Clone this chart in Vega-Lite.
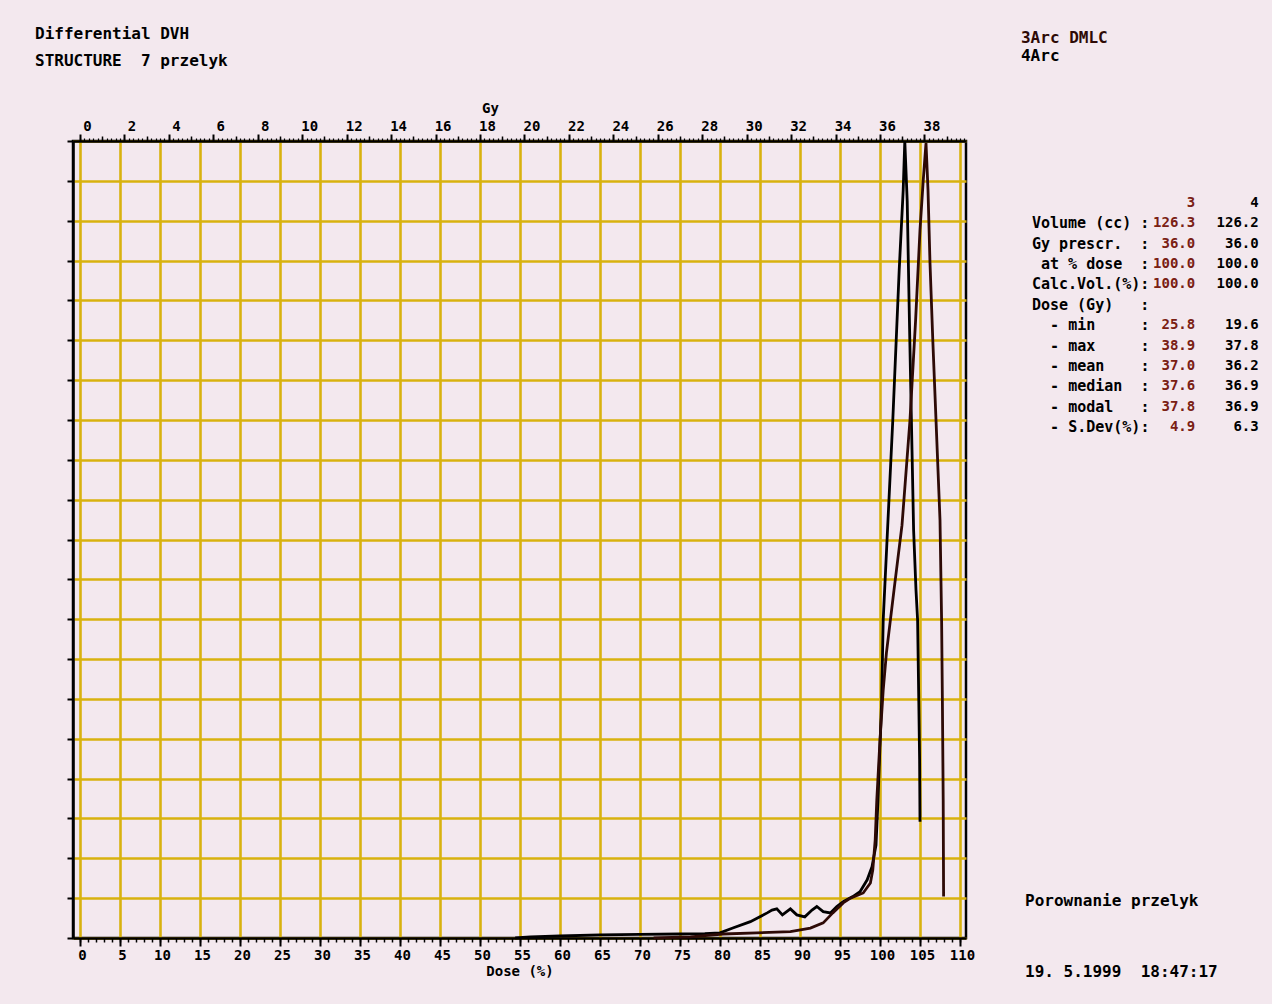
{
  "$schema": "https://vega.github.io/schema/vega-lite/v6.json",
  "width": 893,
  "height": 797,
  "autosize": {"type": "none"},
  "padding": {"left": 73, "top": 141, "right": 306, "bottom": 66},
  "background": "#f3e8ee",
  "config": {
    "view": {"stroke": "#000000", "strokeWidth": 2.5, "fill": "#f3e8ee"},
    "font": "DejaVu Sans Mono",
    "axis": {
      "labelFont": "DejaVu Sans Mono",
      "labelFontWeight": "bold",
      "labelColor": "#000000",
      "titleFont": "DejaVu Sans Mono",
      "titleFontWeight": "bold",
      "titleColor": "#000000",
      "tickColor": "#000000",
      "domainColor": "#000000",
      "labelFlush": false,
      "labelOverlap": false
    }
  },
  "datasets": {
    "dvh": [
      {"plan": "4Arc", "dose": 54.4, "volume": 0},
      {"plan": "4Arc", "dose": 56.3, "volume": 0.03},
      {"plan": "4Arc", "dose": 60, "volume": 0.05},
      {"plan": "4Arc", "dose": 65, "volume": 0.08},
      {"plan": "4Arc", "dose": 70, "volume": 0.09},
      {"plan": "4Arc", "dose": 75, "volume": 0.1},
      {"plan": "4Arc", "dose": 78.1, "volume": 0.11},
      {"plan": "4Arc", "dose": 80, "volume": 0.13},
      {"plan": "4Arc", "dose": 81.6, "volume": 0.25},
      {"plan": "4Arc", "dose": 83.8, "volume": 0.41},
      {"plan": "4Arc", "dose": 85.9, "volume": 0.63},
      {"plan": "4Arc", "dose": 86.5, "volume": 0.7},
      {"plan": "4Arc", "dose": 87.1, "volume": 0.73},
      {"plan": "4Arc", "dose": 87.8, "volume": 0.58},
      {"plan": "4Arc", "dose": 88.8, "volume": 0.73},
      {"plan": "4Arc", "dose": 89.6, "volume": 0.58},
      {"plan": "4Arc", "dose": 90.6, "volume": 0.53},
      {"plan": "4Arc", "dose": 91.5, "volume": 0.7},
      {"plan": "4Arc", "dose": 92.1, "volume": 0.79},
      {"plan": "4Arc", "dose": 92.9, "volume": 0.66},
      {"plan": "4Arc", "dose": 93.8, "volume": 0.63},
      {"plan": "4Arc", "dose": 94.6, "volume": 0.79},
      {"plan": "4Arc", "dose": 95.4, "volume": 0.91},
      {"plan": "4Arc", "dose": 96.6, "volume": 1.04},
      {"plan": "4Arc", "dose": 97.5, "volume": 1.16},
      {"plan": "4Arc", "dose": 98.4, "volume": 1.46},
      {"plan": "4Arc", "dose": 99.0, "volume": 1.79},
      {"plan": "4Arc", "dose": 99.5, "volume": 2.33},
      {"plan": "4Arc", "dose": 99.75, "volume": 3.46},
      {"plan": "4Arc", "dose": 100.2, "volume": 5.93},
      {"plan": "4Arc", "dose": 100.4, "volume": 7.98},
      {"plan": "4Arc", "dose": 101.0, "volume": 10.49},
      {"plan": "4Arc", "dose": 101.6, "volume": 13.0},
      {"plan": "4Arc", "dose": 102.4, "volume": 16.76},
      {"plan": "4Arc", "dose": 102.9, "volume": 18.77},
      {"plan": "4Arc", "dose": 103.1, "volume": 20.0},
      {"plan": "4Arc", "dose": 103.4, "volume": 18.5},
      {"plan": "4Arc", "dose": 103.7, "volume": 15.26},
      {"plan": "4Arc", "dose": 104.0, "volume": 12.25},
      {"plan": "4Arc", "dose": 104.2, "volume": 10.24},
      {"plan": "4Arc", "dose": 104.5, "volume": 8.73},
      {"plan": "4Arc", "dose": 104.7, "volume": 7.98},
      {"plan": "4Arc", "dose": 104.85, "volume": 5.93},
      {"plan": "4Arc", "dose": 104.95, "volume": 4.47},
      {"plan": "4Arc", "dose": 105.0, "volume": 2.92},
      {"plan": "3Arc DMLC", "dose": 71.7, "volume": 0},
      {"plan": "3Arc DMLC", "dose": 76.3, "volume": 0.03},
      {"plan": "3Arc DMLC", "dose": 80.4, "volume": 0.1},
      {"plan": "3Arc DMLC", "dose": 84.6, "volume": 0.13},
      {"plan": "3Arc DMLC", "dose": 88.8, "volume": 0.16},
      {"plan": "3Arc DMLC", "dose": 91.3, "volume": 0.25},
      {"plan": "3Arc DMLC", "dose": 92.9, "volume": 0.38},
      {"plan": "3Arc DMLC", "dose": 94.1, "volume": 0.63},
      {"plan": "3Arc DMLC", "dose": 95.4, "volume": 0.88},
      {"plan": "3Arc DMLC", "dose": 96.3, "volume": 1.0},
      {"plan": "3Arc DMLC", "dose": 97.9, "volume": 1.13},
      {"plan": "3Arc DMLC", "dose": 98.8, "volume": 1.38},
      {"plan": "3Arc DMLC", "dose": 99.1, "volume": 1.71},
      {"plan": "3Arc DMLC", "dose": 99.4, "volume": 2.46},
      {"plan": "3Arc DMLC", "dose": 99.6, "volume": 3.46},
      {"plan": "3Arc DMLC", "dose": 100.0, "volume": 4.97},
      {"plan": "3Arc DMLC", "dose": 100.4, "volume": 6.22},
      {"plan": "3Arc DMLC", "dose": 100.8, "volume": 7.15},
      {"plan": "3Arc DMLC", "dose": 101.75, "volume": 8.73},
      {"plan": "3Arc DMLC", "dose": 102.75, "volume": 10.36},
      {"plan": "3Arc DMLC", "dose": 103.75, "volume": 13.0},
      {"plan": "3Arc DMLC", "dose": 104.45, "volume": 15.5},
      {"plan": "3Arc DMLC", "dose": 105.0, "volume": 17.77},
      {"plan": "3Arc DMLC", "dose": 105.4, "volume": 19.0},
      {"plan": "3Arc DMLC", "dose": 105.75, "volume": 19.95},
      {"plan": "3Arc DMLC", "dose": 106.0, "volume": 18.77},
      {"plan": "3Arc DMLC", "dose": 106.25, "volume": 16.94},
      {"plan": "3Arc DMLC", "dose": 106.6, "volume": 15.0},
      {"plan": "3Arc DMLC", "dose": 107.1, "volume": 12.5},
      {"plan": "3Arc DMLC", "dose": 107.5, "volume": 10.49},
      {"plan": "3Arc DMLC", "dose": 107.7, "volume": 7.98},
      {"plan": "3Arc DMLC", "dose": 107.8, "volume": 5.93},
      {"plan": "3Arc DMLC", "dose": 107.9, "volume": 3.46},
      {"plan": "3Arc DMLC", "dose": 107.95, "volume": 1.04}
    ],
    "stats": [
      {"r": 0, "indent": 0, "label": "", "v3": "3", "v4": "4"},
      {"r": 1, "indent": 0, "label": "Volume (cc) :", "v3": "126.3", "v4": "126.2"},
      {"r": 2, "indent": 0, "label": "Gy prescr.\u00a0\u00a0:", "v3": "36.0", "v4": "36.0"},
      {"r": 3, "indent": 1, "label": "at % dose\u00a0\u00a0:", "v3": "100.0", "v4": "100.0"},
      {"r": 4, "indent": 0, "label": "Calc.Vol.(%):", "v3": "100.0", "v4": "100.0"},
      {"r": 5, "indent": 0, "label": "Dose (Gy)\u00a0\u00a0\u00a0:", "v3": "", "v4": ""},
      {"r": 6, "indent": 2, "label": "- min\u00a0\u00a0\u00a0\u00a0\u00a0:", "v3": "25.8", "v4": "19.6"},
      {"r": 7, "indent": 2, "label": "- max\u00a0\u00a0\u00a0\u00a0\u00a0:", "v3": "38.9", "v4": "37.8"},
      {"r": 8, "indent": 2, "label": "- mean\u00a0\u00a0\u00a0\u00a0:", "v3": "37.0", "v4": "36.2"},
      {"r": 9, "indent": 2, "label": "- median\u00a0\u00a0:", "v3": "37.6", "v4": "36.9"},
      {"r": 10, "indent": 2, "label": "- modal\u00a0\u00a0\u00a0:", "v3": "37.8", "v4": "36.9"},
      {"r": 11, "indent": 2, "label": "- S.Dev(%):", "v3": "4.9", "v4": "6.3"}
    ],
    "titles": [
      {"r": 0, "text": "Differential DVH"},
      {"r": 1, "text": "STRUCTURE\u00a0\u00a07 przelyk"}
    ],
    "header": [
      {"r": 0, "plan": "3Arc DMLC", "text": "3Arc DMLC"},
      {"r": 1, "plan": "4Arc", "text": "4Arc"}
    ],
    "footer": [
      {"r": 0, "text": "Porownanie przelyk"},
      {"r": 1, "text": "19. 5.1999\u00a0\u00a018:47:17"}
    ]
  },
  "layer": [
    {
      "data": {"name": "dvh"},
      "layer": [
        {
          "mark": {"type": "line", "strokeWidth": 2.8, "strokeJoin": "miter"},
          "encoding": {
            "x": {
              "field": "dose", "type": "quantitative",
              "scale": {"domain": [-0.875, 110.75], "nice": false, "zero": false},
              "axis": {
                "orient": "bottom",
                "values": [0, 5, 10, 15, 20, 25, 30, 35, 40, 45, 50, 55, 60, 65, 70, 75, 80, 85, 90, 95, 100, 105, 110],
                "tickCount": 500,
                "format": "d",
                "grid": true, "gridColor": "#d8b20e", "gridWidth": 2.6, "gridOpacity": 1,
                "domain": true, "domainWidth": 2.5,
                "tickSize": 8, "tickWidth": 2,
                "labelFontSize": 14, "labelPadding": 2, "labelOffset": 2,
                "title": "Dose (%)", "titleFontSize": 14, "titlePadding": 2
              }
            },
            "y": {
              "field": "volume", "type": "quantitative",
              "scale": {"domain": [0, 20], "nice": false, "zero": false},
              "axis": {
                "orient": "left",
                "values": [0, 1, 2, 3, 4, 5, 6, 7, 8, 9, 10, 11, 12, 13, 14, 15, 16, 17, 18, 19, 20],
                "tickCount": 500,
                "grid": true, "gridColor": "#d8b20e", "gridWidth": 2.6, "gridOpacity": 1,
                "labels": false, "domain": true, "domainWidth": 2.5,
                "tickSize": 6, "tickWidth": 2, "title": null
              }
            },
            "color": {
              "field": "plan", "type": "nominal",
              "scale": {"domain": ["3Arc DMLC", "4Arc"], "range": ["#2e0a06", "#000000"]},
              "legend": null
            }
          }
        },
        {
          "mark": {"type": "rule", "strokeOpacity": 0},
          "encoding": {
            "x": {
              "field": "dose", "type": "quantitative",
              "axis": {
                "orient": "bottom",
                "values": [0,1,2,3,4,5,6,7,8,9,10,11,12,13,14,15,16,17,18,19,20,21,22,23,24,25,26,27,28,29,30,31,32,33,34,35,36,37,38,39,40,41,42,43,44,45,46,47,48,49,50,51,52,53,54,55,56,57,58,59,60,61,62,63,64,65,66,67,68,69,70,71,72,73,74,75,76,77,78,79,80,81,82,83,84,85,86,87,88,89,90,91,92,93,94,95,96,97,98,99,100,101,102,103,104,105,106,107,108,109,110],
                "tickCount": 500,
                "grid": false, "labels": false, "domain": false,
                "tickSize": 4, "tickWidth": 1.5, "title": null
              }
            }
          }
        }
      ],
      "resolve": {"axis": {"x": "independent"}}
    },
    {
      "data": {"name": "header"},
      "layer": [
        {
          "mark": {"type": "rule", "strokeOpacity": 0},
          "encoding": {
            "x": {
              "datum": 0, "type": "quantitative",
              "scale": {"domain": [-0.315, 39.87], "nice": false, "zero": false},
              "axis": {
                "orient": "top",
                "values": [0, 2, 4, 6, 8, 10, 12, 14, 16, 18, 20, 22, 24, 26, 28, 30, 32, 34, 36, 38],
                "tickCount": 500,
                "format": "d",
                "grid": false, "domain": true, "domainWidth": 2.5,
                "tickSize": 7, "tickWidth": 2,
                "labelFontSize": 14, "labelPadding": 1, "labelOffset": 7,
                "title": "Gy", "titleFontSize": 14, "titleX": 417, "titleY": -33, "titleBaseline": "middle", "titleAlign": "center"
              }
            }
          }
        },
        {
          "mark": {"type": "rule", "strokeOpacity": 0},
          "encoding": {
            "x": {
              "datum": 0, "type": "quantitative",
              "axis": {
                "orient": "top",
                "values": [1, 3, 5, 7, 9, 11, 13, 15, 17, 19, 21, 23, 25, 27, 29, 31, 33, 35, 37, 39],
                "tickCount": 500,
                "grid": false, "labels": false, "domain": false,
                "tickSize": 5, "tickWidth": 1.5, "title": null
              }
            }
          }
        },
        {
          "mark": {"type": "rule", "strokeOpacity": 0},
          "encoding": {
            "x": {
              "datum": 0, "type": "quantitative",
              "axis": {
                "orient": "top",
                "values": [0,0.2,0.4,0.6,0.8,1,1.2,1.4,1.6,1.8,2,2.2,2.4,2.6,2.8,3,3.2,3.4,3.6,3.8,4,4.2,4.4,4.6,4.8,5,5.2,5.4,5.6,5.8,6,6.2,6.4,6.6,6.8,7,7.2,7.4,7.6,7.8,8,8.2,8.4,8.6,8.8,9,9.2,9.4,9.6,9.8,10,10.2,10.4,10.6,10.8,11,11.2,11.4,11.6,11.8,12,12.2,12.4,12.6,12.8,13,13.2,13.4,13.6,13.8,14,14.2,14.4,14.6,14.8,15,15.2,15.4,15.6,15.8,16,16.2,16.4,16.6,16.8,17,17.2,17.4,17.6,17.8,18,18.2,18.4,18.6,18.8,19,19.2,19.4,19.6,19.8,20,20.2,20.4,20.6,20.8,21,21.2,21.4,21.6,21.8,22,22.2,22.4,22.6,22.8,23,23.2,23.4,23.6,23.8,24,24.2,24.4,24.6,24.8,25,25.2,25.4,25.6,25.8,26,26.2,26.4,26.6,26.8,27,27.2,27.4,27.6,27.8,28,28.2,28.4,28.6,28.8,29,29.2,29.4,29.6,29.8,30,30.2,30.4,30.6,30.8,31,31.2,31.4,31.6,31.8,32,32.2,32.4,32.6,32.8,33,33.2,33.4,33.6,33.8,34,34.2,34.4,34.6,34.8,35,35.2,35.4,35.6,35.8,36,36.2,36.4,36.6,36.8,37,37.2,37.4,37.6,37.8,38,38.2,38.4,38.6,38.8,39,39.2,39.4,39.6,39.8],
                "tickCount": 500,
                "grid": false, "labels": false, "domain": false,
                "tickSize": 3, "tickWidth": 1.2, "title": null
              }
            }
          }
        }
      ],
      "resolve": {"axis": {"x": "independent"}}
    },
    {
      "data": {"name": "titles"},
      "mark": {"type": "text", "align": "left", "baseline": "middle", "font": "DejaVu Sans Mono", "fontWeight": "bold", "fontSize": 16, "color": "#000000"},
      "encoding": {
        "x": {"datum": 0, "type": "quantitative", "scale": {"domain": [3.946, 96.68], "nice": false, "zero": false}, "axis": null},
        "y": {"field": "r", "type": "quantitative", "scale": {"domain": [4.0075, 33.86], "reverse": true, "nice": false, "zero": false}, "axis": null},
        "text": {"field": "text"}
      }
    },
    {
      "data": {"name": "header"},
      "mark": {"type": "text", "align": "left", "baseline": "middle", "font": "DejaVu Sans Mono", "fontWeight": "bold", "fontSize": 16},
      "encoding": {
        "x": {"datum": 0, "type": "quantitative", "scale": {"domain": [-98.44, -5.71], "nice": false, "zero": false}, "axis": null},
        "y": {"field": "r", "type": "quantitative", "scale": {"domain": [5.722, 50.0], "reverse": true, "nice": false, "zero": false}, "axis": null},
        "color": {"field": "plan", "type": "nominal", "legend": null},
        "text": {"field": "text"}
      }
    },
    {
      "data": {"name": "stats"},
      "encoding": {
        "y": {"field": "r", "type": "quantitative", "scale": {"domain": [-3.025, 36.04], "reverse": true, "nice": false, "zero": false}, "axis": null}
      },
      "layer": [
        {
          "mark": {"type": "text", "align": "left", "baseline": "middle", "font": "DejaVu Sans Mono", "fontWeight": "bold", "fontSize": 15, "color": "#000000"},
          "encoding": {
            "x": {"field": "indent", "type": "quantitative", "scale": {"domain": [-105.73, -7.27], "nice": false, "zero": false}, "axis": null},
            "text": {"field": "label"}
          }
        },
        {
          "mark": {"type": "text", "align": "right", "baseline": "middle", "font": "DejaVu Sans Mono", "fontWeight": "bold", "fontSize": 14, "color": "#7a2014"},
          "encoding": {
            "x": {"datum": 18, "type": "quantitative", "axis": null},
            "text": {"field": "v3"}
          }
        },
        {
          "mark": {"type": "text", "align": "right", "baseline": "middle", "font": "DejaVu Sans Mono", "fontWeight": "bold", "fontSize": 14, "color": "#000000"},
          "encoding": {
            "x": {"datum": 25, "type": "quantitative", "axis": null},
            "text": {"field": "v4"}
          }
        }
      ]
    },
    {
      "data": {"name": "footer"},
      "mark": {"type": "text", "align": "left", "baseline": "middle", "font": "DejaVu Sans Mono", "fontWeight": "bold", "fontSize": 16, "color": "#000000"},
      "encoding": {
        "x": {"datum": 0, "type": "quantitative", "scale": {"domain": [-98.86, -6.13], "nice": false, "zero": false}, "axis": null},
        "y": {"field": "r", "type": "quantitative", "scale": {"domain": [-10.655, 0.523], "reverse": true, "nice": false, "zero": false}, "axis": null},
        "text": {"field": "text"}
      }
    }
  ],
  "resolve": {"scale": {"x": "independent", "y": "independent"}}
}
